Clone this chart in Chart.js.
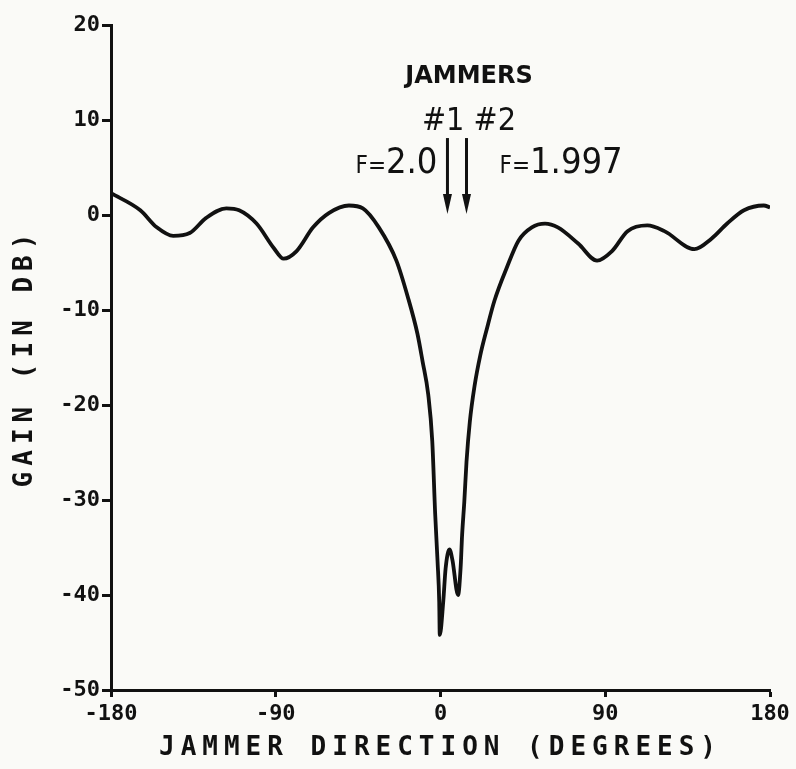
<!DOCTYPE html>
<html>
<head>
<meta charset="utf-8">
<script src="https://cdn.jsdelivr.net/npm/chart.js@4/dist/chart.umd.min.js"></script>
<style>
  html, body { margin:0; padding:0; background:#fafaf7; }
  #wrap { width:796px; height:769px; }
</style>
</head>
<body>
<div id="wrap"><canvas id="gain" width="796" height="769"></canvas></div>
<script>
// ---- data -----------------------------------------------------------------
const angleDeg = [-180, -164, -155, -146, -137, -128, -117, -110, -100.5, -91,
  -85.7, -78.6, -69.6, -61, -50, -42.4, -33.7, -24.1, -17.9, -12.6,
  -9.8, -6.7, -4.5, -2.9, -1.6, -0.7, -0.4, 1.5, 2.8, 4.9,
  6.5, 9.6, 11, 11.8, 13.0, 14.2, 16.0, 18.6, 21.7, 25.3, 29.5,
  36.3, 42.6, 49.9, 57.1, 64.1, 75.2, 85.5, 93.7, 102.2, 113,
  122.3, 138.7, 148, 156.6, 165.8, 176.6, 180];
const gainDb = [2.3, 0.5, -1.3, -2.2, -1.9, -0.3, 0.7, 0.5, -0.9, -3.5,
  -4.6, -3.8, -1.3, 0.2, 1.0, 0.7, -1.3, -4.8, -8.6, -12.5,
  -15.4, -18.9, -23.8, -31.5, -36.5, -40.7, -44.2, -40.7, -37.2, -35.2,
  -36.3, -40.0, -37.1, -33.7, -30.2, -26.0, -21.8, -18.0, -14.8, -12.0, -9.0,
  -5.5, -2.7, -1.3, -0.9, -1.3, -3.0, -4.8, -3.8, -1.7, -1.1,
  -1.7, -3.6, -2.5, -0.9, 0.5, 1.0, 0.8];

const xTicks = [-180, -90, 0, 90, 180];
const yTicks = [20, 10, 0, -10, -20, -30, -40, -50];

// jammer arrows: direction (deg), arrow from / to (dB)
const jammerAngles = [3.8, 14.2];
const jammerNames  = ["#1", "#2"];
const jammerFreqs  = ["2.0", "1.997"];
const arrowFrom = 8.1, arrowTo = 0.1;

const INK = "#111";
const MONO = '"DejaVu Sans Mono", monospace';
const COND = '"DejaVu Sans Condensed", "Liberation Sans Narrow", "DejaVu Sans", sans-serif';

// ---- plugins ---------------------------------------------------------------
// the old plotter lettering is widely spaced: add letter spacing to axis titles
const spacedTitles = {
  id: "spacedTitles",
  beforeDraw(chart){
    ["x", "y"].forEach(id => {
      const s = chart.scales[id];
      if (!s || s._spaced) return;
      const orig = s.drawTitle.bind(s);
      s.drawTitle = function(){
        const c = this.ctx, old = c.letterSpacing;
        c.letterSpacing = "6px";
        orig();
        c.letterSpacing = old;
      };
      s._spaced = true;
    });
  }
};

const jammers = {
  id: "jammers",
  afterDatasetsDraw(chart){
    const { ctx, scales: { x, y } } = chart;
    const px = jammerAngles.map(a => x.getPixelForValue(a));
    const yTop = y.getPixelForValue(arrowFrom), yTip = y.getPixelForValue(arrowTo);
    ctx.save();
    ctx.strokeStyle = INK; ctx.fillStyle = INK; ctx.lineWidth = 3;
    px.forEach(p => {
      ctx.beginPath(); ctx.moveTo(p, yTop); ctx.lineTo(p, yTip - 12); ctx.stroke();
      ctx.beginPath();
      ctx.moveTo(p - 4.5, yTip - 20); ctx.lineTo(p + 4.5, yTip - 20); ctx.lineTo(p, yTip);
      ctx.closePath(); ctx.fill();
    });

    const mid = (px[0] + px[1]) / 2 + 12;
    ctx.textBaseline = "alphabetic";
    ctx.textAlign = "center";
    ctx.font = 'bold 24px "DejaVu Sans", sans-serif';
    ctx.fillText("JAMMERS", mid, yTop - 55);
    ctx.font = "32px " + COND;
    ctx.fillText(jammerNames.join(" "), mid, yTop - 8);

    // F=2.0 to the left of arrow 1, F=1.997 to the right of arrow 2
    const base = yTop + 35;
    const small = "24px " + COND, big = "36px " + COND;
    ctx.textAlign = "left";
    ctx.font = big;
    const w1 = ctx.measureText(jammerFreqs[0]).width;
    ctx.font = small;
    const f1 = ctx.measureText("F=").width;
    let x0 = px[0] - 10 - w1 - f1;
    ctx.fillText("F=", x0, base);
    ctx.font = big;
    ctx.fillText(jammerFreqs[0], x0 + f1, base);
    x0 = px[1] + 33;
    ctx.font = small;
    ctx.fillText("F=", x0, base);
    ctx.font = big;
    ctx.fillText(jammerFreqs[1], x0 + f1, base);
    ctx.restore();
  }
};

// ---- chart -----------------------------------------------------------------
const points = angleDeg.map((a, i) => ({ x: a, y: gainDb[i] }));

new Chart(document.getElementById("gain"), {
  type: "line",
  data: { datasets: [{
    data: points,
    borderColor: INK, borderWidth: 3.8,
    pointRadius: 0, fill: false,
    tension: 0.4, cubicInterpolationMode: "monotone"
  }]},
  options: {
    responsive: false, animation: false,
    layout: { padding: { left: 0, right: 26, top: 25, bottom: 0 } },
    plugins: { legend: { display: false }, tooltip: { enabled: false } },
    scales: {
      x: {
        type: "linear", min: -180, max: 180,
        afterBuildTicks: s => { s.ticks = xTicks.map(v => ({ value: v })); },
        afterFit: s => { s.height = 79; },
        grid: { drawOnChartArea: false, tickLength: 7, tickColor: INK, tickWidth: 3 },
        border: { display: true, color: INK, width: 3 },
        ticks: { color: INK, padding: 4, maxRotation: 0, font: { family: MONO, size: 22, weight: "bold" } },
        title: { display: true, text: "JAMMER DIRECTION (DEGREES)", color: INK, align: "center",
                 padding: { top: 0, bottom: 5 }, font: { family: MONO, size: 26, weight: "bold" } }
      },
      y: {
        type: "linear", min: -50, max: 20,
        afterBuildTicks: s => { s.ticks = yTicks.map(v => ({ value: v })); },
        afterFit: s => { s.width = 111; },
        grid: { drawOnChartArea: false, tickLength: 9, tickColor: INK, tickWidth: 3 },
        border: { display: true, color: INK, width: 3 },
        ticks: { color: INK, padding: 2, font: { family: MONO, size: 22, weight: "bold" } },
        title: { display: true, text: "GAIN (IN DB)", color: INK,
                 padding: { top: 10, bottom: 0 }, font: { family: MONO, size: 26, weight: "bold" } }
      }
    }
  },
  plugins: [spacedTitles, jammers]
});
</script>
</body>
</html>
